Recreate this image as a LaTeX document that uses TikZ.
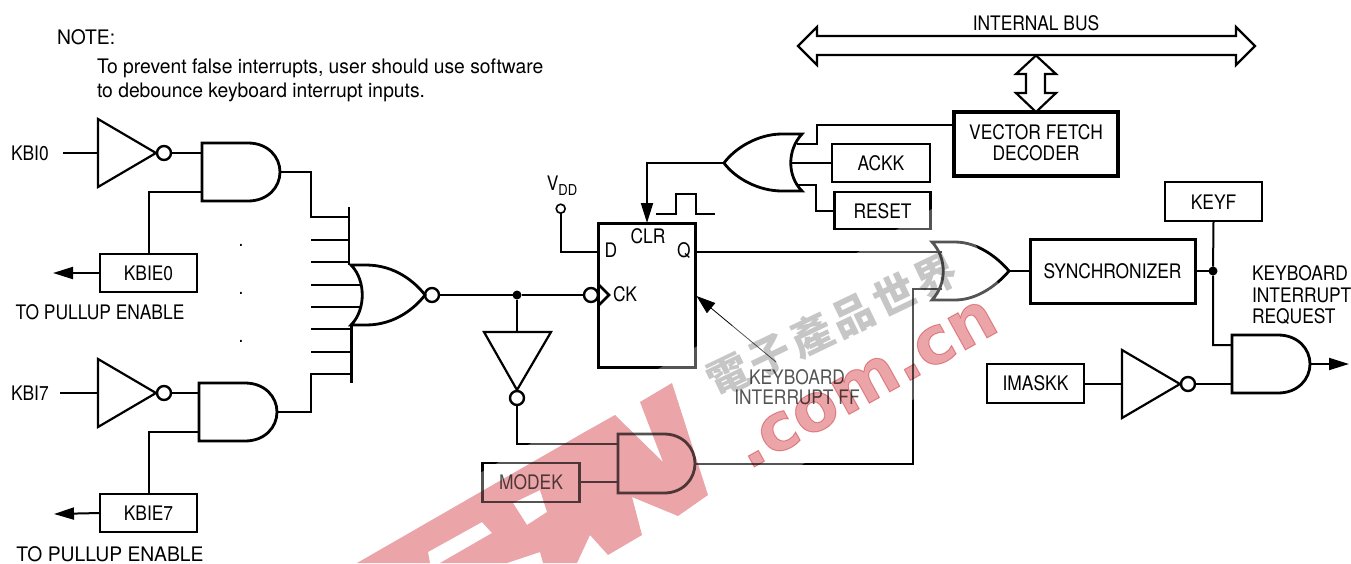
\documentclass[tikz,border=0pt]{standalone}
\usepackage{fontspec}
\setmainfont[FakeStretch=0.87]{TeX Gyre Heros}
\newfontfamily\widefont[FakeStretch=0.965]{TeX Gyre Heros}
\newfontfamily\cjkfont{Noto Sans CJK TC}
\newfontfamily\wmfont[BoldFeatures={FakeBold=1.5}]{DejaVu Sans}
\usetikzlibrary{arrows.meta}
\tikzset{
  txt/.style={inner sep=0pt,outer sep=0pt,font=\fontsize{20}{21}\selectfont},
  lbl/.style={txt,text height=14.4pt,text depth=0pt},
  mlbl/.style={txt,align=center},
  boxline/.style={draw,line width=2.8pt,inner sep=0pt,outer sep=0pt},
  box/.style={boxline,lbl},
  wire/.style={line width=2pt,line join=miter},
  gate/.style={line width=2.8pt,line join=miter},
  thingate/.style={line width=2.2pt,line join=miter},
  bubble/.style={draw,circle,line width=2.4pt,minimum size=14pt,inner sep=0pt,outer sep=0pt},
  jdot/.style={fill=black,circle,minimum size=9pt,inner sep=0pt,outer sep=0pt},
  sig/.style={wire,-{Triangle[length=20pt,width=12pt]}},
}
% AND gate: name, left x, top y, bottom y, right x
\newcommand{\andgate}[5]{%
  \draw[gate] (#2,#3) -- ({#2+46},#3) .. controls ({#5-12},#3) and (#5,{#3+14}) .. (#5,{(#3+#4)/2})
     .. controls (#5,{#4-14}) and ({#5-12},#4) .. ({#2+46},#4) -- (#2,#4) -- cycle;
  \coordinate (#1out) at (#5,{(#3+#4)/2});
}
% inverter pointing right: name, left x, centre y
\newcommand{\invgate}[3]{%
  \draw[thingate] (#2,{#3-34}) -- (#2,{#3+34}) -- ({#2+58},#3) -- cycle;
  \coordinate (#1in) at (#2,#3);
  \node[bubble] (#1bub) at ({#2+66},#3) {};
}
\begin{document}
\begin{tikzpicture}[x=1pt,y=-1pt]
\useasboundingbox (0,0) rectangle (1351,563);

% free texts
\node[lbl,anchor=west,font=\widefont\fontsize{20}{21}\selectfont] (note) at (57,37) {NOTE:};
\node[mlbl,anchor=north west,align=left,font=\widefont\fontsize{20}{24}\selectfont] (notetxt) at (97,59) {To prevent false interrupts, user should use software\\to debounce keyboard interrupt inputs.};
\node[lbl,anchor=west] (kbi0) at (11,153) {KBI0};
\node[lbl,anchor=west] (kbi7) at (11,393) {KBI7};
\node[lbl] (pull0) at (100,312) {TO PULLUP ENABLE};
\node[lbl,font=\widefont\fontsize{20}{21}\selectfont] (pull7) at (110,554.5) {TO PULLUP ENABLE};
\node[txt,anchor=base] (dot1) at (241,246) {.};
\node[txt,anchor=base] (dot2) at (241,294) {.};
\node[txt,anchor=base] (dot3) at (241,342) {.};
\node[lbl] (intbus) at (1036,23) {INTERNAL BUS};
\node[txt] (vdd) at (562,186) {V{\fontsize{15}{15}\selectfont\raisebox{-5pt}{DD}}};
\node[mlbl,font=\fontsize{20}{20}\selectfont] (fflbl) at (797,387) {KEYBOARD\\INTERRUPT FF};
\node[mlbl,anchor=north west,align=left,font=\fontsize{20}{21.5}\selectfont] (kir) at (1252,266) {KEYBOARD\\INTERRUPT\\REQUEST};

% boxes
\node[box,minimum width=97pt,minimum height=38pt] (kbie0) at (148.5,273) {KBIE0};
\node[box,minimum width=97pt,minimum height=38pt] (kbie7) at (148.5,513) {KBIE7};
\node[box,minimum width=97pt,minimum height=39pt] (modek) at (531,482.5) {MODEK};
\node[box,minimum width=98pt,minimum height=38pt,line width=2.2pt] (ackk) at (881,163) {ACKK};
\node[box,minimum width=96pt,minimum height=37pt,line width=2.2pt,text height=16.4pt] (reset) at (882.5,210.5) {RESET};
\node[boxline,mlbl,minimum width=164pt,minimum height=64pt,line width=3.2pt,text depth=2pt] (vec) at (1036,144) {VECTOR FETCH\\DECODER};
\node[box,minimum width=165pt,minimum height=64pt,line width=3pt] (sync) at (1112.5,271) {SYNCHRONIZER};
\node[box,minimum width=97pt,minimum height=39pt,text height=16.4pt] (keyf) at (1213.5,201.5) {KEYF};
\node[box,minimum width=97pt,minimum height=39pt] (imask) at (1035.5,383.5) {IMASKK};
\node[boxline,line width=3pt,minimum width=96.5pt,minimum height=144pt] (ff) at (647.2,295) {};
\node[lbl] (ffd) at (611,250) {D};
\node[lbl] (ffclr) at (648,236) {CLR};
\node[lbl] (ffq) at (684,250) {Q};
\node[lbl] (ffck) at (625,294) {CK};

% left inverters and AND gates
\invgate{inva}{98}{153}
\andgate{anda}{202}{143}{201}{280}
\invgate{invb}{98}{393}
\andgate{andb}{199}{383}{441}{277}
\coordinate (kbi0w) at (63,153);
\coordinate (kbi7w) at (60,393);
\draw[wire] (kbi0w) -- (invain);
\draw[wire] (invabub.east) -- (202,153);
\draw[wire] (kbi7w) -- (invbin);
\draw[wire] (invbbub.east) -- (199,393);
\coordinate (a0b) at (202,192);
\coordinate (a7b) at (199,432);
\draw[wire] (a0b) -| (149,254);
\draw[wire] (a7b) -| (149,494);
\coordinate (tip0) at (53,273);
\coordinate (tip7) at (54,514);
\draw[sig] (kbie0.west) -- (tip0);
\draw[sig] (kbie7.west) -- (tip7);

% wired-input NOR
\draw[gate] (349,207) -- (349,265);
\draw[gate] (351.5,325) -- (351.5,383);
\draw[wire] (andaout) -- (311,172) |- (349,217);
\draw[wire] (311,239.5) -- (349,239.5);
\draw[wire] (311,262) -- (350,262);
\draw[wire] (311,284.5) -- (362,284.5);
\draw[wire] (311,307) -- (361,307);
\draw[wire] (311,329) -- (351,329);
\draw[wire] (311,352) -- (351,352);
\draw[wire] (andbout) -- (311,412) |- (351,374);
\draw[gate] (351,265) -- (366,265) .. controls (395,265) and (415,282) .. (425,295)
   .. controls (415,308) and (395,325) .. (366,325) -- (351,325)
   .. controls (366,310) and (366,280) .. cycle;
\node[bubble] (norbub) at (432,295) {};
\node[jdot] (j1) at (517,295) {};
\node[bubble] (ckbub) at (591,295) {};
\draw[wire] (norbub.east) -- (j1) -- (ckbub.west);
\draw[gate,line join=miter] (599,285) -- (609,295) -- (599,305);

% lower inverter, MODEK AND
\draw[thingate] (484,332) -- (551,332) -- (517,390) -- cycle;
\draw[wire] (j1) -- (517,332);
\node[bubble] (invcbub) at (517,398) {};
\andgate{andc}{618}{434}{493}{695}
\draw[wire] (invcbub.south) |- (618,444);
\draw[wire] (modek.east |- 0,482) -- (618,482);

% VDD, FF inputs
\node[draw,circle,line width=1.6pt,minimum size=9pt,inner sep=0pt,outer sep=0pt] (vddc) at (560.7,208.7) {};
\draw[wire] (vddc.south) |- (599,252);

% OR gate driving CLR
\draw[gate] (724,163) .. controls (735,148) and (758,134) .. (782,134) -- (802,134)
   .. controls (787,150) and (787,176) .. (802,191) -- (782,191)
   .. controls (758,191) and (735,178) .. cycle;
\coordinate (orcout) at (724,163);
\draw[sig] (orcout) -| (ff.north -| 647,0);
\draw[wire] (656,214) -- (676,214) -- (676,194) -- (695.5,194) -- (695.5,214) -- (715,214);
\draw[wire] (796.5,144) -| (817,125) -- (vec.west |- 0,125);
\draw[wire] (790,163) -- (ackk.west);
\draw[wire] (798,185) -| (815.5,211) -- (reset.west |- 0,211);

% internal bus
\draw[thingate,fill=white] (798,46) -- (817,27) -- (817,36) -- (1236,36) -- (1236,27) -- (1255,46) -- (1236,65) -- (1236,55) -- (817,55) -- (817,65) -- cycle;
\draw[thingate,fill=white] (1036,55.5) -- (1056,74) -- (1045,74) -- (1045,93) -- (1056,93) -- (1036,112) -- (1016,93) -- (1026,93) -- (1026,74) -- (1016,74) -- cycle;

% second OR gate
\draw[gate] (932,242) -- (955,242) .. controls (978,242) and (998,258) .. (1009,271)
   .. controls (998,284) and (978,300) .. (955,300) -- (932,300)
   .. controls (947,284) and (947,258) .. cycle;
\coordinate (ordout) at (1009,271);
\draw[wire] (ff.east |- 0,252) -- (942,252);
\draw[wire] (andcout) -| (913,289) -- (942,289);
\draw[wire] (ordout) -- (sync.west);

% output logic
\node[jdot] (j2) at (1213,271) {};
\draw[wire] (sync.east) -- (j2);
\andgate{andd}{1232}{335}{393}{1310}
\draw[wire] (keyf.south) -- (j2) |- (1232,345);
\invgate{invd}{1122}{384}
\draw[wire] (imask.east |- 0,384) -- (invdin);
\draw[wire] (invdbub.east) -- (1232,384);
\coordinate (irq) at (1349,364);
\draw[sig] (anddout) -- (irq);

% FF pointer
\coordinate (ffptr) at (776,362);
\coordinate (fftip) at (696.5,296);
\draw[line width=.8pt,-{Triangle[length=19pt,width=13pt]}] (ffptr) -- (fftip);

% watermark: pale band, then tints
\fill[white,opacity=.33] (949,199) -- (1027,333) -- (634,563) -- (326,563) -- cycle;
\begin{scope}[blend mode=multiply]
\fill[color={rgb,255:red,235;green,165;blue,168},even odd rule]
  (357,563) -- (583,433) -- (615,415) -- (663,462) -- (640,402) -- (672,383) -- (708,495) -- (678,516)
  -- (632,497) -- (642,535) -- (608,555) -- (590,535) -- (577,563) -- (543,563) -- (540,552) -- (507,563)
  -- (440,563) -- (492,533) -- (482,522) -- (428,552) -- (430,563) -- cycle
  (513,503) -- (540,490) -- (547,512) -- (527,525) -- cycle;
\node[inner sep=0pt,anchor=base,rotate=29,text={rgb,255:red,235;green,165;blue,168},font=\wmfont\bfseries\fontsize{66}{66}\selectfont] (wm1) at (875,400) {.com.cn};
\node[inner sep=0pt,rotate=25.6,text={rgb,255:red,198;green,198;blue,198},font=\cjkfont\bfseries\fontsize{42}{42}\selectfont] (wm2) at (832,325) {電\hspace{4pt}子\hspace{4pt}產\hspace{4pt}品\hspace{4pt}世\hspace{4pt}界};
\end{scope}
\end{tikzpicture}
\end{document}
